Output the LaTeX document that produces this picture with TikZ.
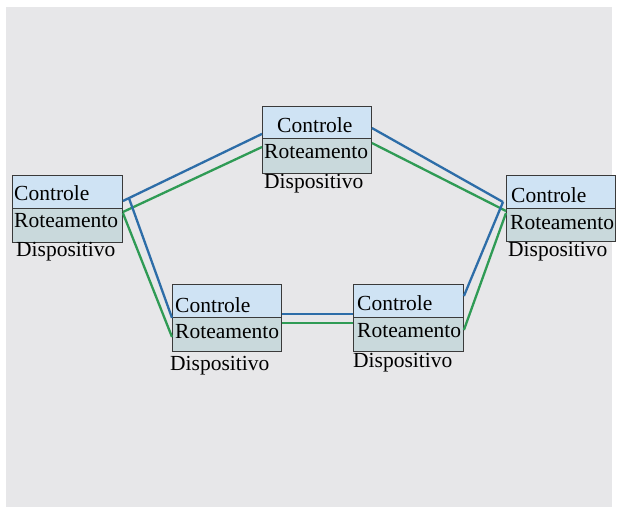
\documentclass[tikz,border=0pt]{standalone}
\usepackage{fontspec}
\setmainfont{Liberation Serif}
\usetikzlibrary{calc}

\definecolor{panelgray}{HTML}{E7E7E9}
\definecolor{ctrlfill}{HTML}{CFE3F4}
\definecolor{routfill}{HTML}{C9D9DC}
\definecolor{boxline}{HTML}{3A3A3A}
\definecolor{linkblue}{HTML}{2D6DA8}
\definecolor{linkgreen}{HTML}{2F9B55}

\tikzset{
  ctrlbox/.style={draw=boxline, line width=0.9pt, fill=ctrlfill, inner sep=0pt,
                  anchor=north west},
  routbox/.style={draw=boxline, line width=0.9pt, fill=routfill, inner sep=0pt,
                  anchor=north west},
  lbl/.style={anchor=base west, inner sep=0pt, text=black,
              font=\fontsize{21.5}{24}\selectfont},
  bluelink/.style={draw=linkblue, line width=2.3pt},
  greenlink/.style={draw=linkgreen, line width=2.3pt},
}

\begin{document}
\begin{tikzpicture}[x=1pt, y=-1pt]
  \useasboundingbox (0,0) rectangle (618,514);
  \fill[white] (0,0) rectangle (618,514);
  \fill[panelgray] (6,7) rectangle (612,507);

  % device boxes: control part (c) above routing part (r)
  % left
  \node[ctrlbox, minimum width=110pt, minimum height=33pt] (Lc) at (12,175) {};
  \node[routbox, minimum width=110pt, minimum height=34pt] (Lr) at (12,208) {};
  % top
  \node[ctrlbox, minimum width=109pt, minimum height=32pt] (Tc) at (262,106) {};
  \node[routbox, minimum width=109pt, minimum height=35pt] (Tr) at (262,138) {};
  % right
  \node[ctrlbox, minimum width=109pt, minimum height=33pt] (Rc) at (506,175) {};
  \node[routbox, minimum width=109pt, minimum height=33pt] (Rr) at (506,208) {};
  % bottom left
  \node[ctrlbox, minimum width=109pt, minimum height=33pt] (Bc) at (172,284) {};
  \node[routbox, minimum width=109pt, minimum height=34pt] (Br) at (172,317) {};
  % bottom right
  \node[ctrlbox, minimum width=110pt, minimum height=33pt] (Dc) at (353,284) {};
  \node[routbox, minimum width=110pt, minimum height=34pt] (Dr) at (353,317) {};

  % labels
  \node[lbl] (Lct) at (14,200) {Controle};
  \node[lbl] (Lrt) at (14,227) {Roteamento};
  \node[lbl] (Ldt) at (16,256) {Dispositivo};

  \node[lbl] (Tct) at (277,132) {Controle};
  \node[lbl] (Trt) at (264,158) {Roteamento};
  \node[lbl] (Tdt) at (264,188) {Dispositivo};

  \node[lbl] (Rct) at (511,202) {Controle};
  \node[lbl] (Rrt) at (510,229) {Roteamento};
  \node[lbl] (Rdt) at (508,256) {Dispositivo};

  \node[lbl] (Bct) at (175,312) {Controle};
  \node[lbl] (Brt) at (175,338) {Roteamento};
  \node[lbl] (Bdt) at (170,370) {Dispositivo};

  \node[lbl] (Dct) at (357,310) {Controle};
  \node[lbl] (Drt) at (357,337) {Roteamento};
  \node[lbl] (Ddt) at (353,367) {Dispositivo};

  % double links: blue (upper) and green (lower)
  % top <-> left
  \draw[bluelink]  ($(Tc.south west)+(0,-5)$) -- ($(Lc.north east)+(0,26)$);
  \draw[greenlink] ($(Tr.north west)+(0,9)$)  -- ($(Lr.north east)+(0,4)$);
  % top <-> right
  \draw[bluelink]  ($(Tc.north east)+(0,22)$) -- ($(Rc.north west)+(-3,27)$);
  \draw[greenlink] ($(Tr.north east)+(0,5)$)  -- ($(Rr.north west)+(0,3)$);
  % left <-> bottom left
  \draw[bluelink]  ($(Lc.north east)+(6,23)$) -- (Bc.south west);
  \draw[greenlink] ($(Lr.north east)+(0,5)$)  -- ($(Br.north west)+(0,20)$);
  % right <-> bottom right
  \draw[bluelink]  ($(Rc.north west)+(-3,27)$) -- ($(Dc.north east)+(0,12)$);
  \draw[greenlink] ($(Rr.north west)+(0,5)$)   -- ($(Dr.north east)+(0,13)$);
  % bottom left <-> bottom right
  \draw[bluelink]  ($(Bc.south east)+(0,-4)$) -- ($(Dc.south west)+(0,-4)$);
  \draw[greenlink] ($(Br.north east)+(0,6)$)  -- ($(Dr.north west)+(0,6)$);
\end{tikzpicture}
\end{document}
